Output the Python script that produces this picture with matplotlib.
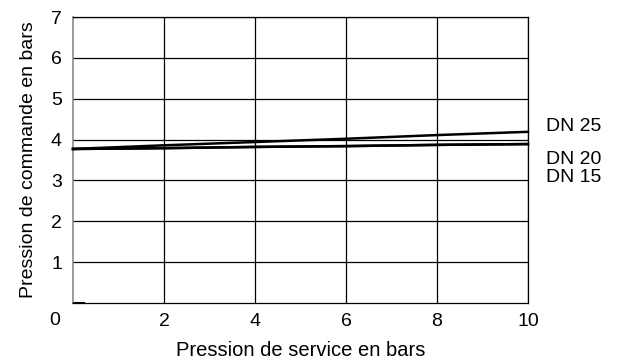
import numpy as np
import matplotlib.pyplot as plt

plt.rcParams['font.family'] = ['Liberation Sans', 'DejaVu Sans']

# service pressure (bar) vs control pressure (bar)
service_p = [0, 2, 4, 6, 8, 10]
dn25 = [3.77, 3.86, 3.94, 4.02, 4.11, 4.19]
dn20 = [3.77, 3.79, 3.82, 3.84, 3.87, 3.89]
dn15 = [3.77, 3.79, 3.82, 3.84, 3.87, 3.89]
series_names = ["DN 25", "DN 20", "DN 15"]
label_y = [4.32, 3.52, 3.08]

x_ticks = [2, 4, 6, 8, 10]
y_ticks = [1, 2, 3, 4, 5, 6, 7]

fig = plt.figure(figsize=(6.18, 3.63), dpi=100)
ax = fig.add_axes([73 / 618, 1 - 303 / 363, 455 / 618, 286 / 363])

ax.set_xlim(0, 10)
ax.set_ylim(0, 7)
for xv in x_ticks:
    ax.axvline(xv, color='black', lw=0.9, zorder=1)
for yv in y_ticks:
    ax.axhline(yv, color='black', lw=0.9, zorder=1)

for vals in [dn25, dn20, dn15]:
    ax.plot(service_p, vals, color='black', lw=1.8, zorder=3, clip_on=False)

# short dash at origin
ax.plot([0, 0.25], [0, 0], color='black', lw=1.5, clip_on=False)

for spine in ['top', 'right', 'bottom']:
    ax.spines[spine].set_linewidth(0.9)
ax.spines['left'].set_color('#888888')
ax.spines['left'].set_linewidth(1.2)

ax.set_xticks(x_ticks)
ax.set_yticks(y_ticks)
ax.tick_params(length=0, labelsize=14)
ax.tick_params(axis='x', pad=7)
ax.tick_params(axis='y', pad=8)
ax.text(-0.4, -0.42, "0", fontsize=14, ha='center', va='center')

for name, yv in zip(series_names, label_y):
    ax.text(10.4, yv, name, fontsize=14, ha='left', va='center', clip_on=False)

ax.set_xlabel("Pression de service en bars", fontsize=14.5, labelpad=8)
ax.set_ylabel("Pression de commande en bars", fontsize=14, labelpad=10)

fig.savefig("out.png", dpi=100)
